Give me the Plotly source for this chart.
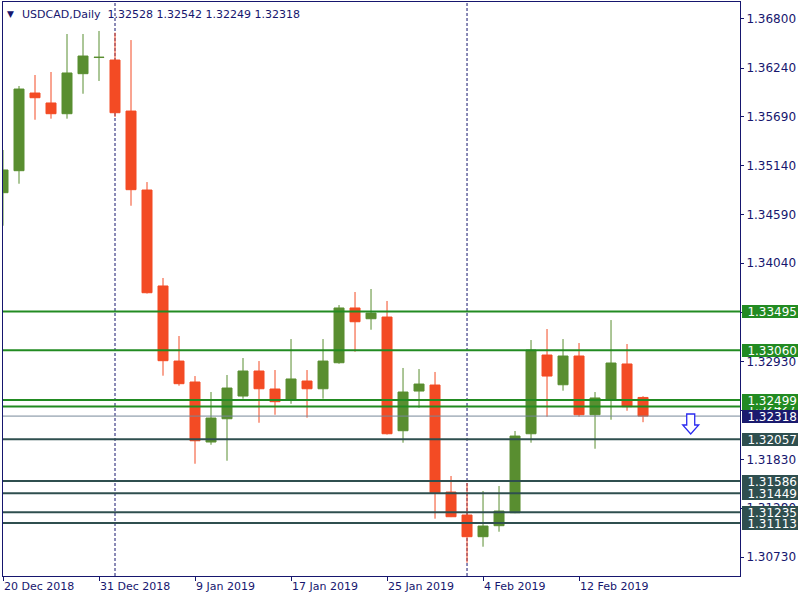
import datetime as dt
import plotly.graph_objects as go

# ---------------- data ----------------
DATES = [
    "2018-12-20", "2018-12-21", "2018-12-24", "2018-12-26", "2018-12-27", "2018-12-28", "2018-12-31",
    "2019-01-02", "2019-01-03", "2019-01-04", "2019-01-07", "2019-01-08", "2019-01-09", "2019-01-10",
    "2019-01-11", "2019-01-14", "2019-01-15", "2019-01-16", "2019-01-17", "2019-01-18", "2019-01-21",
    "2019-01-22", "2019-01-23", "2019-01-24", "2019-01-25", "2019-01-28", "2019-01-29", "2019-01-30",
    "2019-01-31", "2019-02-01", "2019-02-04", "2019-02-05", "2019-02-06", "2019-02-07", "2019-02-08",
    "2019-02-11", "2019-02-12", "2019-02-13", "2019-02-14", "2019-02-15", "2019-02-18",
]
OPEN = [1.34835, 1.35083, 1.35958, 1.35846, 1.35725, 1.36176, 1.36358, 1.36330, 1.35755, 1.34865,
        1.33784, 1.32938, 1.32702, 1.32026, 1.32288, 1.32544, 1.32826, 1.32623, 1.32502, 1.32713,
        1.32626, 1.32919, 1.33536, 1.33415, 1.33434, 1.32153, 1.32600, 1.32668, 1.31462, 1.31203,
        1.30959, 1.31083, 1.31229, 1.32119, 1.33006, 1.32671, 1.32995, 1.32333, 1.32510, 1.32905,
        1.32528]
HIGH = [1.35316, 1.36037, 1.36161, 1.36195, 1.36623, 1.36623, 1.36657, 1.36638, 1.36555, 1.34955,
        1.33874, 1.33220, 1.32769, 1.32589, 1.32781, 1.32972, 1.32938, 1.32837, 1.33186, 1.32837,
        1.33186, 1.33569, 1.33716, 1.33750, 1.33615, 1.32860, 1.32848, 1.32815, 1.31643, 1.31564,
        1.31474, 1.31530, 1.32150, 1.33175, 1.33299, 1.33186, 1.33141, 1.32589, 1.33400, 1.33130,
        1.32542]
LOW = [1.34463, 1.34936, 1.35657, 1.35669, 1.35669, 1.35950, 1.36094, 1.35688, 1.34688, 1.33699,
       1.32773, 1.32660, 1.31781, 1.31995, 1.31815, 1.32514, 1.32243, 1.32333, 1.32457, 1.32300,
       1.32514, 1.32908, 1.33043, 1.33291, 1.32110, 1.32018, 1.32412, 1.31162, 1.31180, 1.30666,
       1.30846, 1.31015, 1.31224, 1.32018, 1.32311, 1.32604, 1.32311, 1.31950, 1.32277, 1.32378,
       1.32249]
CLOSE = [1.35091, 1.36003, 1.35905, 1.35725, 1.36184, 1.36375, 1.36361, 1.35736, 1.34869, 1.33708,
         1.32942, 1.32683, 1.32040, 1.32296, 1.32634, 1.32826, 1.32626, 1.32480, 1.32736, 1.32626,
         1.32938, 1.33536, 1.33381, 1.33479, 1.32119, 1.32589, 1.32679, 1.31454, 1.31184, 1.30959,
         1.31079, 1.31248, 1.32093, 1.33062, 1.32769, 1.32995, 1.32333, 1.32522, 1.32916, 1.32424,
         1.32318]

SYMBOL = "USDCAD,Daily"
GREEN_LEVELS = [1.33495, 1.33060, 1.32427, 1.32499]
SLATE_LEVELS = [1.32057, 1.31586, 1.31449, 1.31235, 1.31113]
BID = 1.32318
Y_TICKS = [1.36800, 1.36240, 1.35690, 1.35140, 1.34590, 1.34040, 1.33490, 1.32930,
           1.32380, 1.31830, 1.31280, 1.30730]
X_TICK_EVERY = 6
ARROW_BAR = 42.98
ARROW_PRICE = 1.32229
VISIBLE_BARS = 46.06
Y_MIN, Y_MAX = 1.305161, 1.369837

# ---------------- styles ----------------
GREEN_C = "#598E30"
RED_C = "#F34B24"
NAVY = "#16166e"
LVL_GREEN = "#228B22"
LVL_SLATE = "#2F4F4F"
BID_LINE = "#778899"
BID_BOX = "#1a1a6e"
FONT = "DejaVu Sans"

dates = [dt.date.fromisoformat(d) for d in DATES]
xs = list(range(len(dates)))

def fmt_date(d):
    return f"{d.day} {d.strftime('%b %Y')}"

tickvals = xs[::X_TICK_EVERY]
ticktext = [fmt_date(dates[i]) for i in tickvals]

# month separators: first bar of a new month
separators = [i for i in range(1, len(dates)) if dates[i].month != dates[i - 1].month]

fig = go.Figure()
fig.add_trace(go.Candlestick(
    x=xs, open=OPEN, high=HIGH, low=LOW, close=CLOSE,
    increasing=dict(line=dict(color=GREEN_C, width=1), fillcolor=GREEN_C),
    decreasing=dict(line=dict(color=RED_C, width=1), fillcolor=RED_C),
    whiskerwidth=0, showlegend=False, hoverinfo="skip",
))

shapes = []
for i in separators:
    shapes.append(dict(type="line", xref="x", yref="paper", x0=i, x1=i, y0=0, y1=1,
                       line=dict(color=NAVY, width=1, dash="3px,2px"), layer="below"))
for v in SLATE_LEVELS:
    shapes.append(dict(type="line", xref="paper", yref="y", x0=0, x1=1, y0=v, y1=v,
                       line=dict(color=LVL_SLATE, width=2), layer="above"))
for v in GREEN_LEVELS:
    shapes.append(dict(type="line", xref="paper", yref="y", x0=0, x1=1, y0=v, y1=v,
                       line=dict(color=LVL_GREEN, width=2), layer="above"))
shapes.append(dict(type="line", xref="paper", yref="y", x0=0, x1=1, y0=BID, y1=BID,
                   line=dict(color=BID_LINE, width=1), layer="above"))
# hollow down arrow (anchored at a bar / price, drawn in pixel units)
shapes.append(dict(type="path", xref="x", yref="y", xsizemode="pixel", ysizemode="pixel",
                   xanchor=ARROW_BAR, yanchor=ARROW_PRICE,
                   path="M -4,10 L 4,10 L 4,-1 L 8,-1 L 0,-10 L -8,-1 L -4,-1 Z",
                   line=dict(color="#2a2af0", width=1.3), fillcolor="white", layer="above"))

annotations = []

def level_box(v, color):
    return dict(x=1, xref="paper", y=v, yref="y", xanchor="left", yanchor="middle",
                xshift=2, text=f"{v:.5f}", showarrow=False, bgcolor=color,
                font=dict(family=FONT, size=12, color="white"),
                width=54, height=11, borderpad=1, borderwidth=0, align="right")

for v in GREEN_LEVELS:
    annotations.append(level_box(v, LVL_GREEN))
for v in SLATE_LEVELS:
    annotations.append(level_box(v, LVL_SLATE))
annotations.append(level_box(BID, BID_BOX))

header = f"{SYMBOL}  " + " ".join(f"{v:.5f}" for v in (OPEN[-1], HIGH[-1], LOW[-1], CLOSE[-1]))
annotations.append(dict(x=0, xref="paper", y=1, yref="paper", xanchor="left", yanchor="top",
                        xshift=17, yshift=-4, text=header, showarrow=False,
                        font=dict(family=FONT, size=11, color=NAVY)))
annotations.append(dict(x=0, xref="paper", y=1, yref="paper", xanchor="left", yanchor="top",
                        xshift=2, yshift=-5, text="▼", showarrow=False,
                        font=dict(family=FONT, size=9, color=NAVY)))

fig.update_layout(
    width=800, height=600,
    margin=dict(l=3, r=60, t=2, b=24),
    paper_bgcolor="white", plot_bgcolor="white",
    boxgap=0.375, boxgroupgap=0,
    shapes=shapes, annotations=annotations,
    font=dict(family=FONT, color=NAVY),
    xaxis=dict(range=[0, VISIBLE_BARS], rangeslider=dict(visible=False),
               tickmode="array", tickvals=tickvals, ticktext=ticktext,
               ticks="outside", ticklen=4, tickcolor=NAVY, tickwidth=1,
               ticklabelposition="outside right",
               tickfont=dict(family=FONT, size=11, color=NAVY),
               showgrid=False, zeroline=False,
               showline=True, linecolor=NAVY, linewidth=1, mirror=True),
    yaxis=dict(range=[Y_MIN, Y_MAX], side="right",
               tickmode="array", tickvals=Y_TICKS, ticktext=[f"{v:.5f}" for v in Y_TICKS],
               ticks="outside", ticklen=3, tickcolor=NAVY, tickwidth=1,
               tickfont=dict(family=FONT, size=12, color=NAVY),
               showgrid=False, zeroline=False,
               showline=True, linecolor=NAVY, linewidth=1, mirror=True),
)

fig.write_html(
    "out.html",
    config={"displayModeBar": False},
    post_script="document.body.style.margin='0';document.body.style.overflow='hidden';",
)
